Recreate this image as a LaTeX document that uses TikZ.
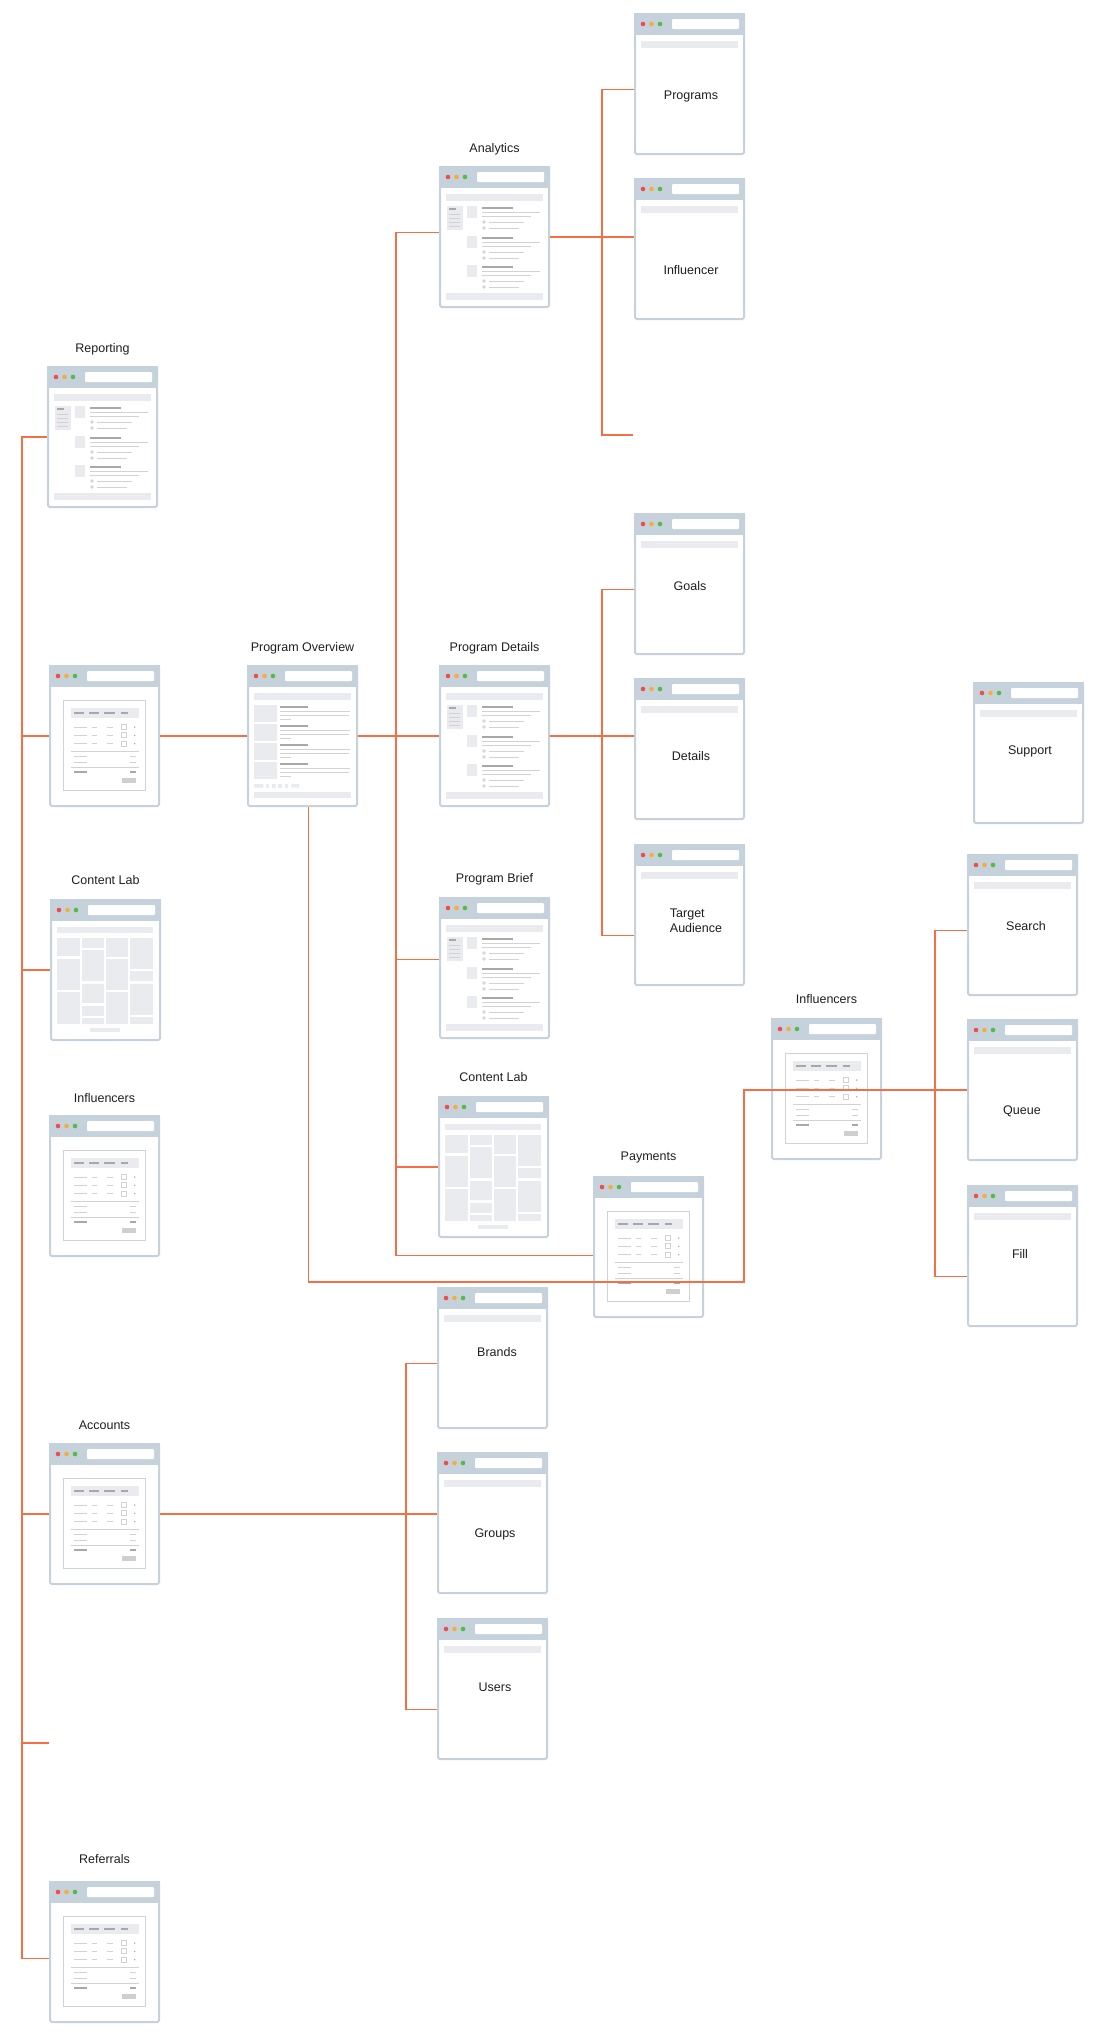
\documentclass[tikz,border=0pt]{standalone}
\usepackage{fontspec}
\setmainfont{Liberation Sans}
\usetikzlibrary{positioning}
\definecolor{myorange}{RGB}{245,110,68}
\definecolor{myframe}{RGB}{198,210,219}
\definecolor{myblock}{RGB}{233,235,238}
\definecolor{mydark}{RGB}{168,168,170}
\definecolor{mylight}{RGB}{210,210,212}
\definecolor{mybtn}{RGB}{206,207,210}
\definecolor{mydotred}{RGB}{236,78,76}
\definecolor{mydotyel}{RGB}{246,172,62}
\definecolor{mydotgrn}{RGB}{84,186,72}
\colorlet{mytext}{black!88}
\tikzset{
  page/.style={rectangle,draw=myframe,line width=2pt,fill=white,rounded corners=1.5pt,
               minimum width=109pt,minimum height=140pt,inner sep=0,anchor=north west},
  heading/.style={font=\fontsize{12.5}{15}\selectfont,text=mytext,inner sep=0,text depth=0pt},
  pagetext/.style={font=\fontsize{12.5}{15}\selectfont,text=mytext,inner sep=0,align=left},
  link/.style={myorange,line width=1.9pt},
  block/.style={fill=myblock},
  dline/.style={mydark,line width=1.3pt},
  lline/.style={mylight,line width=0.8pt}
}
% window chrome, drawn in page coordinates
\newcommand{\titlebar}{\fill[myframe] (0,0) rectangle (111,22);
  \fill[white,rounded corners=1pt] (38,6) rectangle (105,16);
  \foreach \c [count=\i] in {mydotred,mydotyel,mydotgrn}
    \fill[\c] (0.5+8.5*\i,11) circle (2.3pt);}
\newcommand{\wirebody}{\fill[block] (7,28) rectangle (104,35);}
\newcommand{\detailbody}{\fill[block] (7,28) rectangle (104,35);
  \fill[block] (7,127) rectangle (104,134);
  \fill[block] (8,40) rectangle (24,64);
  \draw[dline] (10,43) -- (17,43);
  \foreach \y in {48,52,56,60} \draw[lline] (10,\y) -- (21,\y);
  \foreach \y in {40,70,99}{%
    \fill[block] (28,\y) rectangle (38,\y+12);
    \draw[dline] (43,\y+2) -- (74,\y+2);
    \draw[lline] (43,\y+6) -- (101,\y+6) (43,\y+10) -- (92,\y+10);
    \draw[lline] (45,\y+16) circle (1.3pt) (45,\y+22) circle (1.3pt);
    \draw[lline] (50,\y+16) -- (85,\y+16) (50,\y+22) -- (80,\y+22);
  }}
\newcommand{\listbody}{\fill[block] (7,28) rectangle (104,35);
  \fill[block] (7,127) rectangle (104,133);
  \foreach \y in {40,59,78,97}{%
    \fill[block] (7,\y) rectangle (30,\y+17);
    \draw[dline] (33,\y+2) -- (61,\y+2);
    \draw[lline] (33,\y+6) -- (103,\y+6) (33,\y+10) -- (102,\y+10);
    \draw[lline] (33,\y+14) -- (44,\y+14);
  }
  \fill[block] (7,119) rectangle (16.3,122.5) (44.3,119) rectangle (52.3,122.5);
  \foreach \x in {18.7,25,31.3,37.7} \fill[block] (\x,119) rectangle (\x+3.6,122.5);}
\newcommand{\gridbody}{\fill[block] (7,27.5) rectangle (103,34);
  \foreach \xa/\xb/\ya/\yb in {7/29.7/39/57.3,7/29.7/59.7/90.7,7/29.7/92.7/124.7,
      32/54/39/49,32/54/51.3/82.3,32/54/84.7/104,32/54/106.7/117.3,32/54/119.3/124.7,
      56/78.3/39/58,56/78.3/60.3/91.3,56/78.3/93.3/124.7,
      80.3/103/39/70,80.3/103/72.3/82.3,80.3/103/84.7/115.7,80.3/103/118/124.7}
    \fill[block] (\xa,\ya) rectangle (\xb,\yb);
  \fill[block] (40,129.3) rectangle (70,132.7);}
\newcommand{\tablebody}{\draw[mylight,line width=1pt] (14,35) rectangle (96,125.5);
  \fill[block] (22,43) rectangle (90,53);
  \foreach \xa/\xb in {25/34.5,40/50,55/65.5,71.5/79} \draw[dline] (\xa,48) -- (\xb,48);
  \foreach \y in {62,70.3,78.7}{%
    \draw[lline] (25,\y) -- (38,\y) (43,\y) -- (48,\y) (57.5,\y) -- (64,\y);
    \draw[lline] (72.7,\y-2.5) rectangle (77.7,\y+2.5);
    \fill[mydark] (85.7,\y) circle (0.8pt);
  }
  \draw[lline] (22,86.3) -- (90,86.3) (22,102.3) -- (90,102.3);
  \foreach \y in {91.3,97} \draw[lline] (25,\y) -- (38,\y) (80.5,\y) -- (87,\y);
  \draw[dline] (25,107) -- (38,107) (80.5,107) -- (87,107);
  \fill[mybtn] (72.7,113.3) rectangle (87,117.7);}
% one browser page: name, top left corner, body
\newcommand{\browser}[3]{\node[page] (#1) at (#2) {};
  \begin{scope}[shift={(#1.north west)}]
    \titlebar
    #3
  \end{scope}}

\begin{document}
\begin{tikzpicture}[x=1pt,y=-1pt]
  \useasboundingbox (0,0) rectangle (1106,2040);
  % Left column
  \browser{rep}{47,366}{\detailbody}
  \browser{lst}{49,665}{\tablebody}
  \browser{cl}{50,899}{\gridbody}
  \browser{infl}{49,1115}{\tablebody}
  \browser{acc}{49,1443}{\tablebody}
  \browser{ref}{49,1881}{\tablebody}
  % Program pages
  \browser{ov}{247,665}{\listbody}
  \browser{ana}{439,166}{\detailbody}
  \browser{pd}{439,665}{\detailbody}
  \browser{pb}{439,897}{\detailbody}
  \browser{cl2}{438,1096}{\gridbody}
  \browser{pay}{593,1176}{\tablebody}
  \browser{infr}{771,1018}{\tablebody}
  % Pages with their name inside
  \foreach \n/\x/\y/\tx/\ty/\t in {prg/634/13/691/96/Programs,
      inf/634/178/691/270/Influencer, gl/634/513/690/586/Goals,
      det/634/678/691/756/Details, ta/634/844/696/920.5/{Target\\Audience},
      sup/973/682/1030/751/Support, src/967/854/1026/926/Search,
      que/967/1019/1022/1111/Queue, fil/967/1185/1020/1254/Fill,
      brd/437/1287/497/1352/Brands, grp/437/1452/495/1534/Groups,
      usr/437/1618/495/1687/Users}{%
    \browser{\n}{\x,\y}{\wirebody}
    \node[pagetext] (\n-t) at (\tx,\ty) {\t};
  }
  % Titles above pages
  \foreach \n/\t/\d in {rep/Reporting/13, cl/Content Lab/14, infl/Influencers/12,
      acc/Accounts/13, ref/Referrals/17, ana/Analytics/13, ov/Program Overview/13,
      pd/Program Details/13, pb/Program Brief/14, cl2/Content Lab/14,
      pay/Payments/15, infr/Influencers/14}
    \node[heading, above=\d pt of \n] (\n-l) {\t};
  % Connectors
  \coordinate (trunk) at (22,0);
  \coordinate (sp1) at (396,0);
  \coordinate (sp2) at (602,0);
  \coordinate (sp3) at (935,0);
  \coordinate (sp4) at (406,0);
  \coordinate (stub1) at (49,1743);
  \coordinate (stub2) at (633,435);
  \coordinate (bend) at (744,1282);
  \coordinate (ov-out) at ([xshift=6pt]ov.south);
  \foreach \n/\d in {ref/-6.5, ana/4.5, pb/8.5, pay/-8.5, prg/-5.5, gl/-5.5, ta/-20.5,
      src/-5.5, fil/-20.5, brd/-5.5, usr/-20.5}
    \coordinate (\n-in) at ([yshift=\d pt]\n.west);
  \draw[link] (rep.west) -- (rep.west -| trunk) |- (ref-in);
  \foreach \b in {lst,cl,acc} \draw[link] (\b.west -| trunk) -- (\b.west);
  \draw[link] (stub1 -| trunk) -- (stub1);
  \draw[link] (lst.east) -- (ov.west);
  \draw[link] (ov.east) -- (pd.west);
  \draw[link] (ana-in) -- (ana-in -| sp1) |- (pay-in);
  \draw[link] (pb-in -| sp1) -- (pb-in);
  \draw[link] (cl2.west -| sp1) -- (cl2.west);
  \draw[link] (ana.east) -- (inf.west |- ana.east);
  \draw[link] (prg-in) -- (prg-in -| sp2) |- (stub2);
  \draw[link] (pd.east) -- (det.west |- pd.east);
  \draw[link] (gl-in) -- (gl-in -| sp2) |- (ta-in);
  \draw[link] (ov-out) |- (bend) |- (que.west);
  \draw[link] (src-in) -- (src-in -| sp3) |- (fil-in);
  \draw[link] (acc.east) -- (grp.west |- acc.east);
  \draw[link] (brd-in) -- (brd-in -| sp4) |- (usr-in);
\end{tikzpicture}
\end{document}
